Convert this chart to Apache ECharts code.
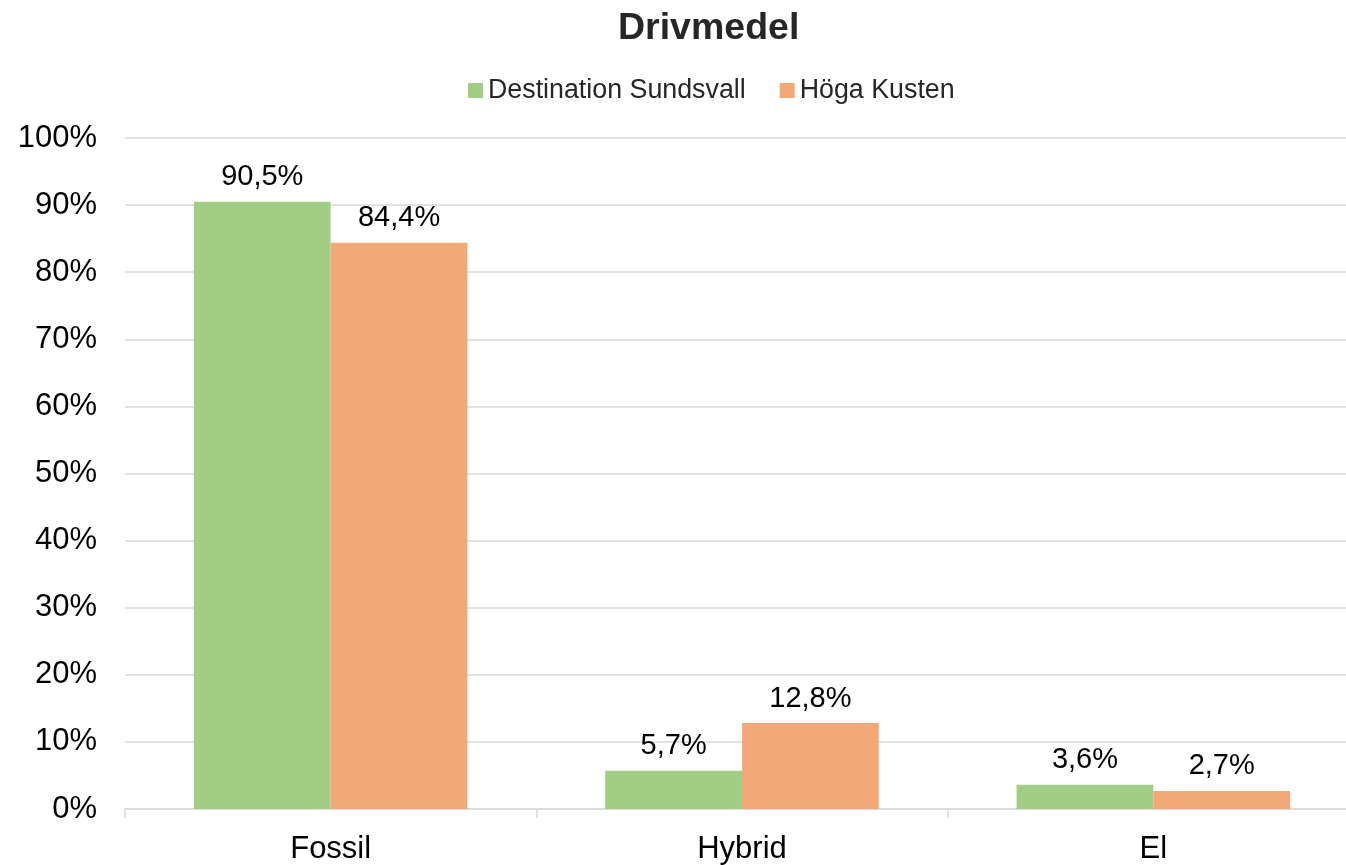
<!DOCTYPE html>
<html><head><meta charset="utf-8">
<script src="https://cdn.jsdelivr.net/npm/echarts@6/dist/echarts.min.js"></script>
<style>html,body{margin:0;padding:0;background:#fff;overflow:hidden}#c{width:1360px;height:865px}</style>
</head><body><div id="c"></div>
<script>
const categories = ['Fossil', 'Hybrid', 'El'];
const seriesNames = ['Destination Sundsvall', 'Höga Kusten'];
const sundsvall = [90.5, 5.7, 3.6];
const hogaKusten = [84.4, 12.8, 2.7];
const colors = ['#A2CD85', '#F3A977'];
const font = 'Liberation Sans, Arial, sans-serif';
const chart = echarts.init(document.getElementById('c'));
const fmt = p => p.value.toFixed(1).replace('.', ',') + '%';
chart.setOption({
  animation: false,
  title: { text: 'Drivmedel', left: 613, top: 5,
    textStyle: { fontFamily: font, fontSize: 37.5, fontWeight: 'bold', color: '#262626' } },
  legend: { top: 72, left: 463, itemWidth: 15, itemHeight: 15, itemGap: 34,
    icon: 'rect', textStyle: { fontFamily: font, fontSize: 26.8, color: '#262626' } },
  grid: { left: 125, top: 138, right: 1, height: 672 },
  xAxis: { type: 'category', data: categories,
    axisLine: { lineStyle: { color: '#D9D9D9', width: 1.5 } },
    axisTick: { show: true, length: 9, lineStyle: { color: '#D9D9D9', width: 1.5 } },
    axisLabel: { fontFamily: font, fontSize: 31, color: '#000', margin: 25 } },
  yAxis: { type: 'value', min: 0, max: 100, interval: 10,
    axisLabel: { formatter: '{value}%', fontFamily: font, fontSize: 31, color: '#000', margin: 28 },
    splitLine: { lineStyle: { color: '#D9D9D9', width: 1.5 } },
    axisLine: { show: false }, axisTick: { show: false } },
  series: [
    { name: seriesNames[0], type: 'bar', data: sundsvall, barGap: '0%', barCategoryGap: '33.5%',
      itemStyle: { color: colors[0] },
      label: { show: true, position: 'top', distance: 10, formatter: fmt, fontFamily: font, fontSize: 29, color: '#000' } },
    { name: seriesNames[1], type: 'bar', data: hogaKusten,
      itemStyle: { color: colors[1] },
      label: { show: true, position: 'top', distance: 10, formatter: fmt, fontFamily: font, fontSize: 29, color: '#000' } }
  ]
});
</script></body></html>
